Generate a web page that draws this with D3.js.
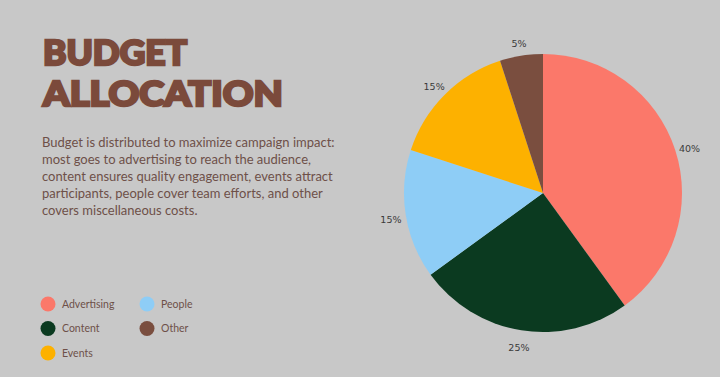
<!DOCTYPE html>
<meta charset="utf-8">
<style>
body { margin: 0; background: #c8c8c8; }
.title { font-family: Lato; font-weight: 900; fill: #7b4a3b; stroke: #7b4a3b; stroke-width: 2.4px; stroke-linejoin: miter; }
.desc { font: 13px Lato; fill: #6e5048; }
.legendLabel { font: 10.5px Lato; fill: #6e5048; }
.pctLabel { font: 9.5px "DejaVu Sans"; fill: #3a3a3a; }
</style>
<body>
<script src="https://d3js.org/d3.v7.min.js"></script>
<script>

const categories = ["Advertising", "Content", "People", "Events", "Other"];
const shares = [40, 25, 15, 15, 5];
const colors = ["#fb786a", "#0b3a20", "#8ecdf6", "#fdb100", "#7a4e3f"];
const titleLines = ["BUDGET", "ALLOCATION"];
const descLines = [
  "Budget is distributed to maximize campaign impact:",
  "most goes to advertising to reach the audience,",
  "content ensures quality engagement, events attract",
  "participants, people cover team efforts, and other",
  "covers miscellaneous costs."
];
const legendOrder = ["Advertising", "Content", "Events", "People", "Other"];

let width = 720,
    height = 377,
    radius = 139;

let svg = d3.select("body").append("svg")
            .attr("width", width)
            .attr("height", height);

svg.append("rect").attr("width", width).attr("height", height).attr("fill", "#c8c8c8");

let color = d3.scaleOrdinal().domain(categories).range(colors);

// title, stretched wide like the blocky poster font
const titleWidths = [144, 240];
svg.append("g").selectAll("text")
    .data(titleLines)
    .join("text")
        .attr("class", "title")
        .attr("x", 43)
        .attr("y", (d, i) => 65 + i * 41)
        .style("font-size", "34px")
        .attr("textLength", (d, i) => titleWidths[i])
        .attr("lengthAdjust", "spacingAndGlyphs")
        .text(d => d);

// description
svg.append("g").selectAll("text")
    .data(descLines)
    .join("text")
        .attr("class", "desc")
        .attr("x", 42)
        .attr("y", (d, i) => 147 + i * 17)
        .text(d => d);

// legend
const legend_g = svg.append("g").attr("transform", "translate(48,304)");
const lg = legend_g.selectAll("g")
    .data(legendOrder)
    .join("g")
        .attr("transform", (d, i) => `translate(${Math.floor(i / 3) * 99},${(i % 3) * 24.5})`);
lg.append("circle").attr("r", 7.5).attr("fill", color);
lg.append("text").attr("class", "legendLabel").attr("x", 14).attr("dy", "0.35em").text(d => d);

// pie
const pie = d3.pie().sort(null).value(d => d.v);
const arcs = pie(categories.map((c, i) => ({c: c, v: shares[i]})));
const arc = d3.arc().innerRadius(0).outerRadius(radius);
const labelArc = d3.arc().innerRadius(radius + 15).outerRadius(radius + 15);

const pie_g = svg.append("g").attr("transform", "translate(543,193)");
pie_g.selectAll("path")
    .data(arcs)
    .join("path")
        .attr("d", arc)
        .attr("fill", d => color(d.data.c));

pie_g.selectAll("text")
    .data(arcs)
    .join("text")
        .attr("class", "pctLabel")
        .attr("transform", d => `translate(${labelArc.centroid(d)})`)
        .attr("text-anchor", "middle")
        .attr("y", 3)
        .attr("dy", "0.35em")
        .text(d => d.data.v + "%");

</script>
